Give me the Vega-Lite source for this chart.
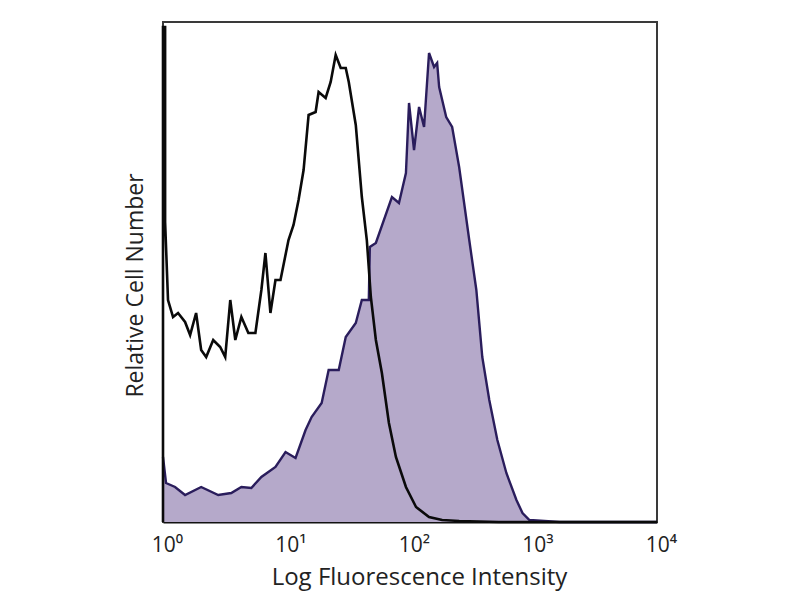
{
  "$schema": "https://vega.github.io/schema/vega-lite/v6.json",
  "width": 494,
  "height": 500,
  "autosize": {"type": "none"},
  "padding": {"left": 163, "top": 22, "right": 143, "bottom": 78},
  "background": "white",
  "config": {
    "view": {"stroke": "#3a3a3a", "strokeWidth": 2},
    "font": "Open Sans"
  },
  "datasets": {
    "ctrl": [
      {"x": 1.0, "y": 0},
      {"x": 1.0, "y": 495},
      {"x": 1.04, "y": 495},
      {"x": 1.04, "y": 300},
      {"x": 1.098, "y": 222},
      {"x": 1.206, "y": 205},
      {"x": 1.324, "y": 209},
      {"x": 1.509, "y": 200},
      {"x": 1.658, "y": 187},
      {"x": 1.854, "y": 209},
      {"x": 2.037, "y": 172},
      {"x": 2.237, "y": 165},
      {"x": 2.55, "y": 182},
      {"x": 2.905, "y": 175},
      {"x": 3.19, "y": 165},
      {"x": 3.505, "y": 222},
      {"x": 3.85, "y": 182},
      {"x": 4.31, "y": 205},
      {"x": 4.91, "y": 189},
      {"x": 5.6, "y": 189},
      {"x": 6.26, "y": 232},
      {"x": 6.75, "y": 269},
      {"x": 7.41, "y": 209},
      {"x": 8.14, "y": 242},
      {"x": 8.94, "y": 242},
      {"x": 10.38, "y": 282},
      {"x": 11.4, "y": 297},
      {"x": 12.52, "y": 322},
      {"x": 13.75, "y": 352},
      {"x": 15.1, "y": 407},
      {"x": 17.21, "y": 410},
      {"x": 18.2, "y": 430},
      {"x": 20.75, "y": 424},
      {"x": 22.79, "y": 440},
      {"x": 25.02, "y": 467},
      {"x": 27.48, "y": 454},
      {"x": 30.18, "y": 454},
      {"x": 31.93, "y": 440},
      {"x": 36.39, "y": 397},
      {"x": 40.74, "y": 325},
      {"x": 44.7, "y": 282},
      {"x": 48.19, "y": 225},
      {"x": 52.92, "y": 182},
      {"x": 59.2, "y": 149},
      {"x": 67.5, "y": 99},
      {"x": 76.9, "y": 65},
      {"x": 92.7, "y": 35},
      {"x": 111.9, "y": 15},
      {"x": 142.6, "y": 5},
      {"x": 182, "y": 2},
      {"x": 250, "y": 1},
      {"x": 525, "y": 0},
      {"x": 3440, "y": 0},
      {"x": 10000, "y": 0}
    ],
    "stain": [
      {"x": 1.0, "y": 65},
      {"x": 1.058, "y": 39},
      {"x": 1.252, "y": 35},
      {"x": 1.509, "y": 27},
      {"x": 2.037, "y": 35},
      {"x": 2.8, "y": 27},
      {"x": 3.57, "y": 29},
      {"x": 4.31, "y": 35},
      {"x": 5.19, "y": 34},
      {"x": 6.26, "y": 45},
      {"x": 8.14, "y": 55},
      {"x": 9.82, "y": 70},
      {"x": 11.84, "y": 64},
      {"x": 14.27, "y": 92},
      {"x": 15.97, "y": 105},
      {"x": 19.26, "y": 119},
      {"x": 21.94, "y": 152},
      {"x": 26.48, "y": 152},
      {"x": 30.18, "y": 185},
      {"x": 36.39, "y": 199},
      {"x": 40.74, "y": 222},
      {"x": 46.4, "y": 222},
      {"x": 47.3, "y": 275},
      {"x": 52.92, "y": 279},
      {"x": 71.4, "y": 325},
      {"x": 81.4, "y": 319},
      {"x": 92.7, "y": 349},
      {"x": 98.2, "y": 419},
      {"x": 107.8, "y": 372},
      {"x": 118.4, "y": 415},
      {"x": 130, "y": 395},
      {"x": 142.6, "y": 469},
      {"x": 156.7, "y": 455},
      {"x": 165.9, "y": 459},
      {"x": 172.2, "y": 435},
      {"x": 196.4, "y": 405},
      {"x": 219.4, "y": 395},
      {"x": 250, "y": 355},
      {"x": 301.8, "y": 282},
      {"x": 344.5, "y": 232},
      {"x": 384.9, "y": 165},
      {"x": 438.5, "y": 122},
      {"x": 509.7, "y": 82},
      {"x": 602.9, "y": 49},
      {"x": 727.4, "y": 22},
      {"x": 814.5, "y": 9},
      {"x": 926.5, "y": 2},
      {"x": 1227, "y": 1},
      {"x": 1626, "y": 0},
      {"x": 10000, "y": 0}
    ]
  },
  "encoding": {
    "x": {
      "field": "x",
      "type": "quantitative",
      "scale": {"type": "log", "domain": [1, 10000], "nice": false},
      "axis": {
        "values": [1, 10, 100, 1000, 10000],
        "labelExpr": "'10' + ['⁰','¹','²','³','⁴'][round(log(datum.value)/LN10)]",
        "ticks": false,
        "grid": false,
        "domainColor": "#111",
        "domainWidth": 2,
        "labelFontSize": 21,
        "labelColor": "#222",
        "labelPadding": 12,
        "labelOffset": 4,
        "labelFlush": false,
        "title": "Log Fluorescence Intensity",
        "titleFontSize": 24,
        "titleFontWeight": "normal",
        "titleColor": "#222",
        "titlePadding": 10,
        "titleX": 256
      }
    },
    "y": {
      "field": "y",
      "type": "quantitative",
      "scale": {"domain": [0, 500], "nice": false},
      "axis": {
        "labels": false,
        "ticks": false,
        "grid": false,
        "domain": false,
        "title": "Relative Cell Number",
        "titleFontSize": 23,
        "titleFontWeight": "normal",
        "titleColor": "#222",
        "titlePadding": 16,
        "titleY": 263
      }
    }
  },
  "layer": [
    {
      "data": {"name": "stain"},
      "mark": {"type": "area", "color": "#b5a9ca", "opacity": 1, "line": {"color": "#2a1d5c", "strokeWidth": 2.4}}
    },
    {
      "data": {"name": "ctrl"},
      "mark": {"type": "line", "color": "#0a0a0a", "strokeWidth": 2.6}
    }
  ]
}
